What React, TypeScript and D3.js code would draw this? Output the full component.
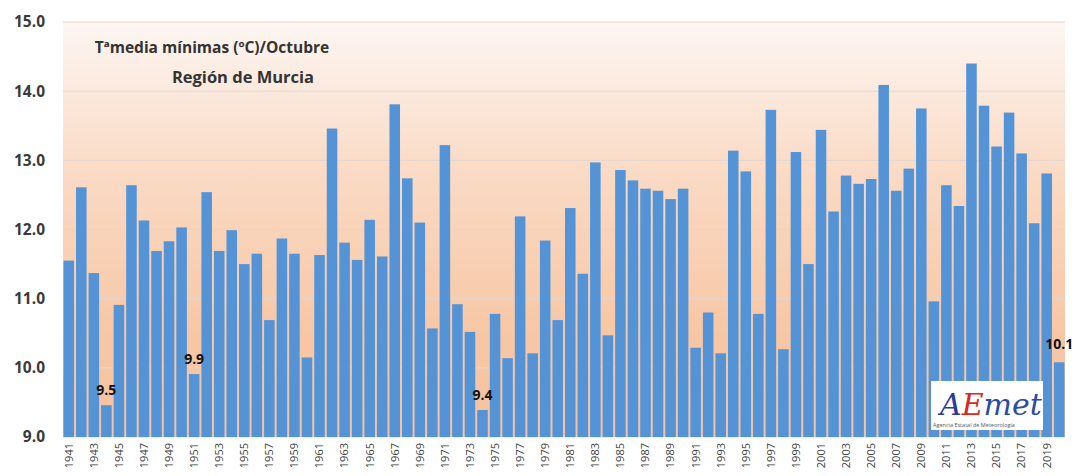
import React from 'react';
import * as d3 from 'd3';

const years: number[] = d3.range(1941, 2021);
const values: number[] = [
  11.55, 12.61, 11.37, 9.46, 10.91, 12.64, 12.13, 11.69, 11.83, 12.03,
  9.91, 12.54, 11.69, 11.99, 11.5, 11.65, 10.69, 11.87, 11.65, 10.15,
  11.63, 13.46, 11.81, 11.56, 12.14, 11.61, 13.81, 12.74, 12.1, 10.57,
  13.22, 10.92, 10.52, 9.39, 10.78, 10.14, 12.19, 10.21, 11.84, 10.69,
  12.31, 11.36, 12.97, 10.47, 12.86, 12.71, 12.59, 12.56, 12.44, 12.59,
  10.29, 10.8, 10.21, 13.14, 12.84, 10.78, 13.73, 10.27, 13.12, 11.5,
  13.44, 12.26, 12.78, 12.66, 12.73, 14.09, 12.56, 12.88, 13.75, 10.96,
  12.64, 12.34, 14.4, 13.79, 13.2, 13.69, 13.1, 12.09, 12.81, 10.08,
];
const yTicks: number[] = [9, 10, 11, 12, 13, 14, 15];
const labelled: { year: number; text: string }[] = [
  { year: 1944, text: '9.5' },
  { year: 1951, text: '9.9' },
  { year: 1974, text: '9.4' },
  { year: 2020, text: '10.1' },
];
const titleLines = ['Tªmedia mínimas (ºC)/Octubre', 'Región de Murcia'];

const W = 1076;
const H = 476;
const left = 63;
const right = 1065;
const top = 22;
const bottom = 437;

export default function App() {
  const x = d3.scaleBand<number>().domain(years).range([left, right]).paddingInner(0.16).paddingOuter(0.04);
  const y = d3.scaleLinear().domain([9, 15]).range([bottom, top]);
  const font = "'Open Sans', 'Noto Sans', sans-serif";

  // title lines: [center x, baseline y, font size]
  const titlePos = [[212, 53, 15.5], [243, 83, 16.5]];

  return (
    <svg width={W} height={H} style={{ position: 'absolute', left: 0, top: 0, background: '#fff' }}>
      <defs>
        <linearGradient id="bg" x1="0" y1="0" x2="0" y2="1">
          <stop offset="0" stopColor="#fdf6f2" />
          <stop offset="0.35" stopColor="#fadbc6" />
          <stop offset="0.75" stopColor="#f7c7a5" />
          <stop offset="1" stopColor="#f6c2a0" />
        </linearGradient>
      </defs>
      <rect x={left} y={top} width={right - left} height={bottom - top} fill="url(#bg)" />
      {yTicks.map(t => (
        <g key={t}>
          <line x1={left} x2={right} y1={y(t)} y2={y(t)} stroke="#e3d6cf" strokeWidth={1} />
          <text x={45} y={y(t)} dy="0.35em" textAnchor="end" fontFamily={font} fontWeight={700}
            fontSize={15.5} fill="#3a3a3a">{t.toFixed(1)}</text>
        </g>
      ))}
      {values.map((v, i) => (
        <rect key={years[i]} x={x(years[i])} y={y(v)} width={x.bandwidth()} height={bottom - y(v)}
          fill="#5393d6" />
      ))}
      {years.filter(yr => yr % 2 === 1).map(yr => (
        <text key={yr} transform={`translate(${(x(yr) as number) + x.bandwidth() / 2},${bottom + 6}) rotate(-90)`}
          textAnchor="end" dy="0.35em" fontFamily={font} fontSize={11} fill="#404040">{yr}</text>
      ))}
      {labelled.map(l => {
        const v = values[years.indexOf(l.year)];
        const off = l.year === 2020 ? 13 : 10;
        return (
          <text key={l.year} x={(x(l.year) as number) + x.bandwidth() / 2} y={y(v) - off}
            textAnchor="middle" fontFamily={font} fontWeight={700} fontSize={14} fill="#111">{l.text}</text>
        );
      })}
      {titleLines.map((t, i) => (
        <text key={t} x={titlePos[i][0]} y={titlePos[i][1]} textAnchor="middle" fontFamily={font} fontWeight={700}
          fontSize={titlePos[i][2]} fill="#333">{t}</text>
      ))}
      <g>
        <rect x={931} y={381} width={112} height={49} fill="#fff" />
        <text x={940} y={415} fontFamily="'DejaVu Serif', serif" fontStyle="italic" fontSize={30} fill="#2a3a9c">
          <tspan fill="#2a3a9c">A</tspan><tspan fill="#d8281f">E</tspan><tspan fill="#2a4aa8">met</tspan>
        </text>
        <text x={933} y={427} fontFamily={font} fontSize={5.5} fill="#556">Agencia Estatal de Meteorología</text>
      </g>
    </svg>
  );
}
